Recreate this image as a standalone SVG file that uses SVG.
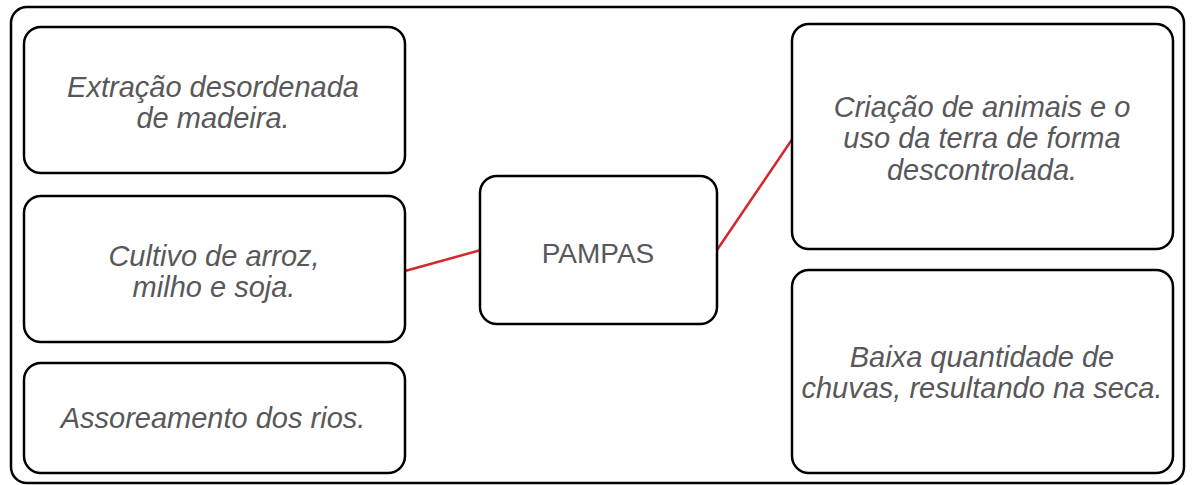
<svg xmlns="http://www.w3.org/2000/svg" width="1192" height="485" viewBox="0 0 1192 485">
<style>
.box{fill:#ffffff;stroke:#000000;stroke-width:2.5}
.frame{fill:none;stroke:#000000;stroke-width:2.5}
.lbl{font-family:"Liberation Sans",Arial,sans-serif;font-style:italic;font-size:29px;fill:#58585a;text-anchor:middle}
.title{font-family:"Liberation Sans",Arial,sans-serif;font-size:28px;fill:#58585a;text-anchor:middle}
.conn{stroke:#d7262e;stroke-width:2.5;fill:none}
</style>
<rect x="0" y="0" width="1192" height="485" fill="#ffffff"/>
<rect class="frame" x="11" y="7" width="1173" height="476" rx="16"/>
<g id="connectors">
<line class="conn" x1="405" y1="271" x2="481" y2="250"/>
<line class="conn" x1="717" y1="250" x2="793" y2="138"/>
</g>
<g id="node-extracao">
<rect class="box" x="24" y="27" width="381" height="146" rx="17"/>
<text class="lbl" x="213" y="97">Extração desordenada</text>
<text class="lbl" x="213" y="128">de madeira.</text>
</g>
<g id="node-cultivo">
<rect class="box" x="24" y="196" width="381" height="146" rx="17"/>
<text class="lbl" x="214" y="266">Cultivo de arroz,</text>
<text class="lbl" x="214" y="297">milho e soja.</text>
</g>
<g id="node-assoreamento">
<rect class="box" x="24" y="363" width="381" height="110" rx="17"/>
<text class="lbl" x="213" y="428">Assoreamento dos rios.</text>
</g>
<g id="node-pampas">
<rect class="box" x="480" y="176" width="237" height="148" rx="17"/>
<text class="title" x="598" y="263">PAMPAS</text>
</g>
<g id="node-criacao">
<rect class="box" x="792" y="24" width="381" height="225" rx="17"/>
<text class="lbl" x="982" y="117">Criação de animais e o</text>
<text class="lbl" x="982" y="148">uso da terra de forma</text>
<text class="lbl" x="982" y="180">descontrolada.</text>
</g>
<g id="node-baixa">
<rect class="box" x="792" y="270" width="381" height="203" rx="17"/>
<text class="lbl" x="982" y="367">Baixa quantidade de</text>
<text class="lbl" x="982" y="398">chuvas, resultando na seca.</text>
</g>
</svg>
